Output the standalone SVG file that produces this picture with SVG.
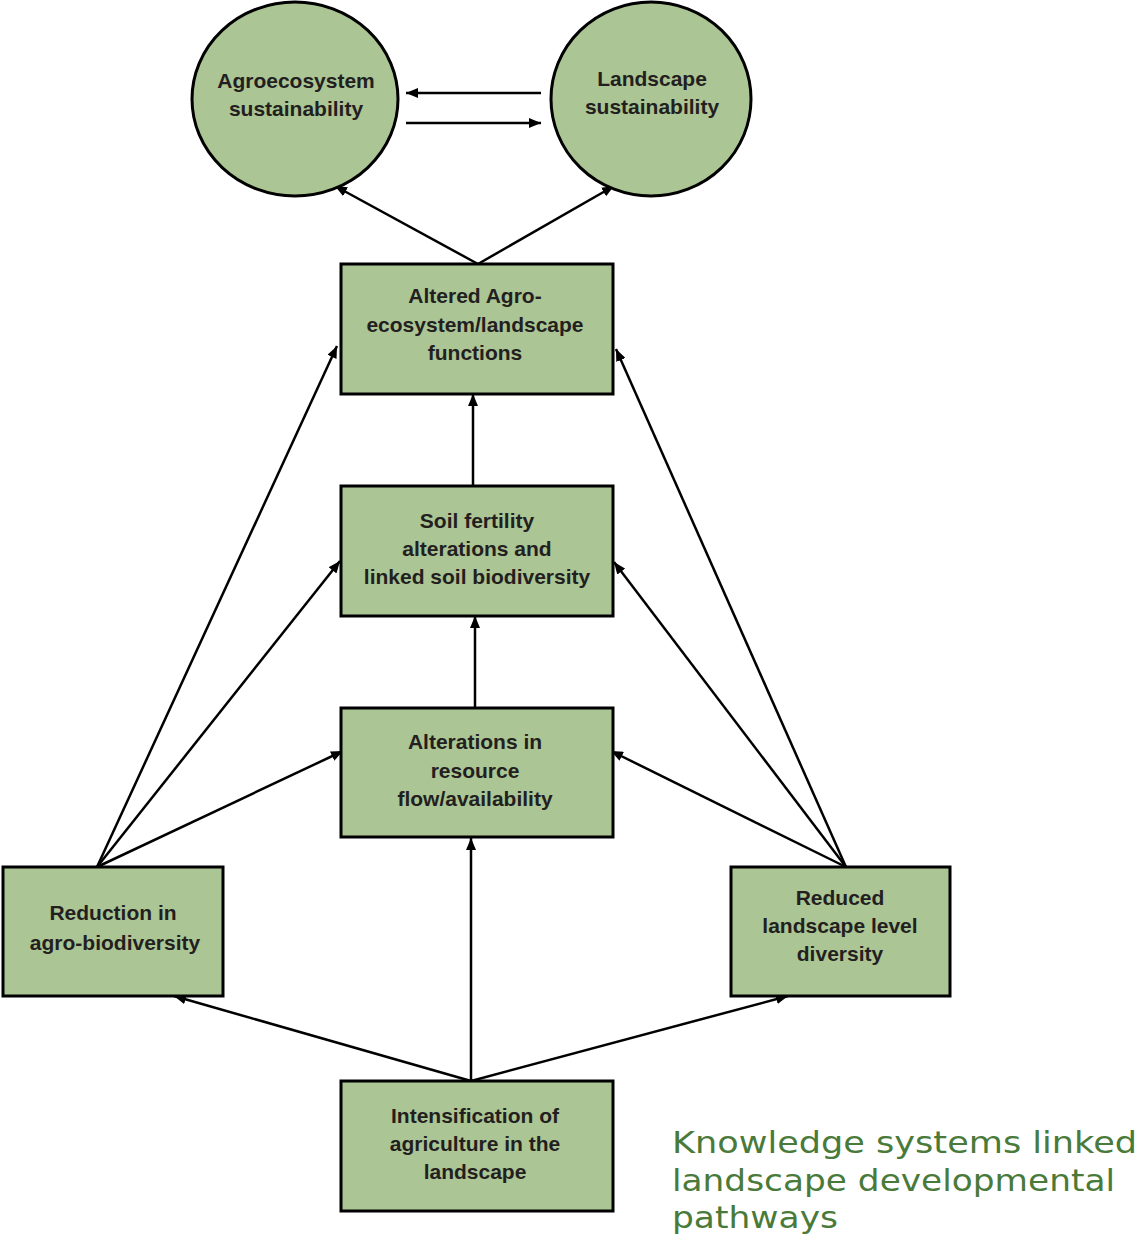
<svg xmlns="http://www.w3.org/2000/svg" width="1140" height="1237" viewBox="0 0 1140 1237">
<defs>
<marker id="ah" viewBox="0 0 12 10" refX="12" refY="5" markerWidth="12" markerHeight="10" markerUnits="userSpaceOnUse" orient="auto">
<path d="M0,0 L12,5 L0,10 z" fill="#000"/>
</marker>
<style>
.node{fill:#abc594;stroke:#000;stroke-width:3}
.t{font-family:"Liberation Sans",Arial,sans-serif;font-weight:bold;font-size:21px;fill:#231f20;text-anchor:middle}
.c{stroke:#000;stroke-width:2.5;fill:none;marker-end:url(#ah)}
.cap{font-family:"DejaVu Sans",Verdana,sans-serif;font-size:30px;fill:#4a7a3a}
</style>
</defs>
<rect width="1140" height="1237" fill="#fff"/>
<g id="connectors">
<line class="c" x1="541" y1="93" x2="406" y2="93"/>
<line class="c" x1="406" y1="123" x2="541" y2="123"/>
<line class="c" x1="478" y1="264" x2="335" y2="186"/>
<line class="c" x1="478" y1="264" x2="614" y2="186"/>
<line class="c" x1="473" y1="486" x2="473" y2="394"/>
<line class="c" x1="475" y1="708" x2="475" y2="616"/>
<line class="c" x1="471" y1="1081" x2="471" y2="838"/>
<line class="c" x1="471" y1="1081" x2="174" y2="996"/>
<line class="c" x1="471" y1="1081" x2="788" y2="996"/>
<line class="c" x1="97" y1="867" x2="337" y2="346"/>
<line class="c" x1="97" y1="867" x2="340" y2="561"/>
<line class="c" x1="97" y1="867" x2="343" y2="751"/>
<line class="c" x1="846" y1="867" x2="616" y2="349"/>
<line class="c" x1="846" y1="867" x2="614" y2="562"/>
<line class="c" x1="846" y1="867" x2="611" y2="751"/>
</g>
<g id="agroecosystem-sustainability">
<ellipse class="node" cx="295" cy="99" rx="103" ry="97"/>
<text class="t" x="296" y="88">Agroecosystem</text>
<text class="t" x="296" y="116">sustainability</text>
</g>
<g id="landscape-sustainability">
<ellipse class="node" cx="651" cy="99" rx="100" ry="97"/>
<text class="t" x="652" y="86">Landscape</text>
<text class="t" x="652" y="114">sustainability</text>
</g>
<g id="altered-functions">
<rect class="node" x="341" y="264" width="272" height="130"/>
<text class="t" x="475" y="303">Altered Agro-</text>
<text class="t" x="475" y="332">ecosystem/landscape</text>
<text class="t" x="475" y="360">functions</text>
</g>
<g id="soil-fertility">
<rect class="node" x="341" y="486" width="272" height="130"/>
<text class="t" x="477" y="528">Soil fertility</text>
<text class="t" x="477" y="556">alterations and</text>
<text class="t" x="477" y="584">linked soil biodiversity</text>
</g>
<g id="resource-flow">
<rect class="node" x="341" y="708" width="272" height="129"/>
<text class="t" x="475" y="749">Alterations in</text>
<text class="t" x="475" y="778">resource</text>
<text class="t" x="475" y="806">flow/availability</text>
</g>
<g id="reduction-agrobiodiversity">
<rect class="node" x="3" y="867" width="220" height="129"/>
<text class="t" x="113" y="920">Reduction in</text>
<text class="t" x="115" y="950">agro-biodiversity</text>
</g>
<g id="reduced-landscape-diversity">
<rect class="node" x="731" y="867" width="219" height="129"/>
<text class="t" x="840" y="905">Reduced</text>
<text class="t" x="840" y="933">landscape level</text>
<text class="t" x="840" y="961">diversity</text>
</g>
<g id="intensification">
<rect class="node" x="341" y="1081" width="272" height="130"/>
<text class="t" x="475" y="1123">Intensification of</text>
<text class="t" x="475" y="1151">agriculture in the</text>
<text class="t" x="475" y="1179">landscape</text>
</g>
<g id="caption">
<text class="cap" x="672" y="1153" textLength="465" lengthAdjust="spacingAndGlyphs">Knowledge systems linked</text>
<text class="cap" x="672" y="1191" textLength="443" lengthAdjust="spacingAndGlyphs">landscape developmental</text>
<text class="cap" x="672" y="1228" textLength="166" lengthAdjust="spacingAndGlyphs">pathways</text>
</g>
</svg>
